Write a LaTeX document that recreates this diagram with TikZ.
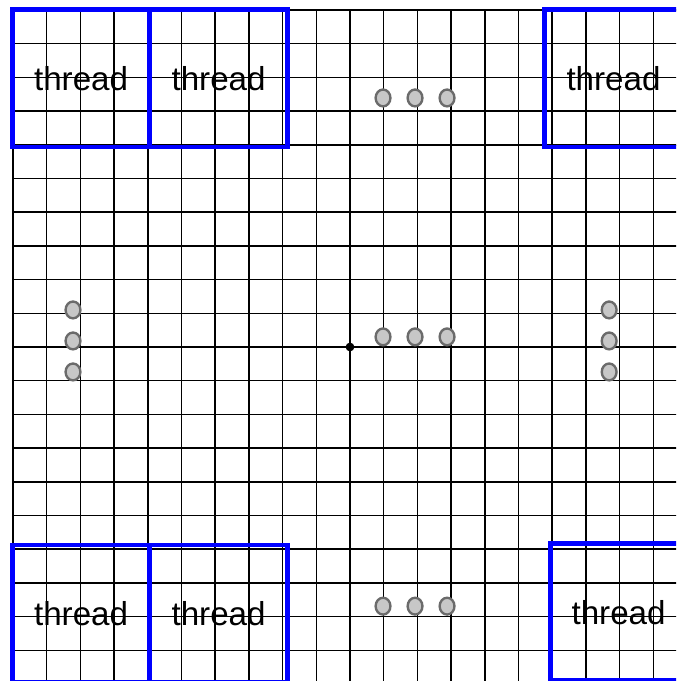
\documentclass[tikz,border=0pt]{standalone}
\usepackage{fontspec}
\setmainfont{Liberation Sans}
\usetikzlibrary{shapes.geometric}
\begin{document}
\begin{tikzpicture}
		\tikzstyle{every node}=[font=\fontsize{28pt}{34pt}\selectfont]
		\tikzstyle{threadbox}=[draw=blue, line width=4.2pt, minimum width=4.07cm, minimum height=4.07cm, inner sep=0pt]
		\tikzstyle{dotdot}=[draw=black!58, fill=black!22, line width=2pt, ellipse, minimum width=0.44cm, minimum height=0.5cm, inner sep=0pt]
		
		\clip (-10.386,-9.911) rectangle (9.674,10.297);
		
		\draw[line width=1.2pt, step=1] (-10,-10) grid (10,10);
		\fill[black] (0,0) circle (0.13);
		
		\node[threadbox] (tl1) at (-7.98,7.97) {thread};
		\node[threadbox] (tl2) at (-3.9,7.97) {thread};
		\node[threadbox] (tr) at (7.82,7.97) {thread};
		\node[threadbox] (bl1) at (-7.98,-7.91) {thread};
		\node[threadbox] (bl2) at (-3.9,-7.91) {thread};
		\node[threadbox] (br) at (7.97,-7.87) {thread};
		
		\foreach \x [count=\i] in {0.98,1.93,2.88} {
			\node[dotdot] (top\i) at (\x,7.39) {};
			\node[dotdot] (mid\i) at (\x,0.3) {};
			\node[dotdot] (bot\i) at (\x,-7.69) {};
		}
		\foreach \y [count=\i] in {1.1,0.18,-0.74} {
			\node[dotdot] (left\i) at (-8.22,\y) {};
			\node[dotdot] (right\i) at (7.69,\y) {};
		}
		
	\end{tikzpicture}
\end{document}
